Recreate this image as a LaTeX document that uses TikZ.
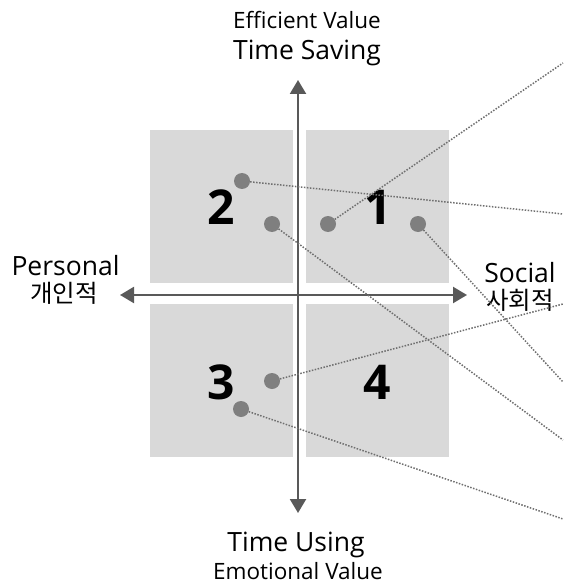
\documentclass[tikz,border=0pt]{standalone}
\usepackage{fontspec}
\setmainfont{Open Sans}
\newfontfamily\krfont{Noto Sans CJK KR}
\usepackage{xcolor}
\usepackage{tikz}
\usetikzlibrary{arrows.meta}

\definecolor{axisgray}{HTML}{595959}
\definecolor{boxgray}{HTML}{D9D9D9}
\definecolor{dotgray}{HTML}{7F7F7F}
\definecolor{leadgray}{HTML}{6F6F6F}

\begin{document}
\begin{tikzpicture}[x=1pt, y=-1pt,
  axis/.style={axisgray, line width=2.2pt, {Triangle[length=14pt,width=16pt]}-{Triangle[length=14pt,width=16pt]}},
  biglbl/.style={anchor=base, font=\fontsize{26.5}{28}\selectfont},
  smalllbl/.style={anchor=base, font=\fontsize{22.5}{24}\selectfont},
  krlbl/.style={anchor=base, font=\krfont\fontsize{24.5}{26}\selectfont},
  quadnum/.style={font=\fontsize{48}{50}\selectfont\bfseries, inner sep=0pt},
  dot/.style={circle, fill=dotgray, minimum size=16pt, inner sep=0pt},
  leader/.style={leadgray, line width=1.5pt, dash pattern=on 1.5pt off 1.5pt}]
  \useasboundingbox (0,0) rectangle (563,585);
  % quadrant boxes
  \foreach \x in {150,306} {
    \foreach \y in {130,304} {
      \fill[boxgray] (\x,\y) rectangle ({\x+143},{\y+153});
    }
  }
  % axes
  \coordinate (ax-top) at (298,80);
  \coordinate (ax-bot) at (298,513);
  \coordinate (ax-left) at (120,295);
  \coordinate (ax-right) at (467,295);
  \draw[axis] (ax-bot) -- (ax-top);
  \draw[axis] (ax-left) -- (ax-right);
  % axis labels
  \node[smalllbl] (eff) at (307,29) {Efficient Value};
  \node[biglbl] (save) at (307,60) {Time Saving};
  \node[biglbl] (use) at (296,551) {Time Using};
  \node[smalllbl] (emo) at (298,579) {Emotional Value};
  \node[biglbl] (pers) at (65.5,275) {Personal};
  \node[krlbl] (pers-kr) at (64,302) {개인적};
  \node[biglbl] (soc) at (520,282) {Social};
  \node[krlbl] (soc-kr) at (520,309) {사회적};
  % quadrant numbers
  \node[quadnum] (q1) at (378,207.5) {1};
  \node[quadnum] (q2) at (221.5,207.5) {2};
  \node[quadnum] (q3) at (221.5,382) {3};
  \node[quadnum] (q4) at (377.5,382.5) {4};
  % dots and where their leaders leave the picture
  \foreach \n/\x/\y/\ey in {1/328/224/63, 2/242/181/214, 3/418/224/382,
                            4/272/224/440, 5/272/381/304, 6/241/409/519} {
    \node[dot] (dot\n) at (\x,\y) {};
    \coordinate (end\n) at (563,\ey);
  }
  \foreach \n in {1,...,6} {
    \draw[leader] (dot\n) -- (end\n);
  }
\end{tikzpicture}
\end{document}
